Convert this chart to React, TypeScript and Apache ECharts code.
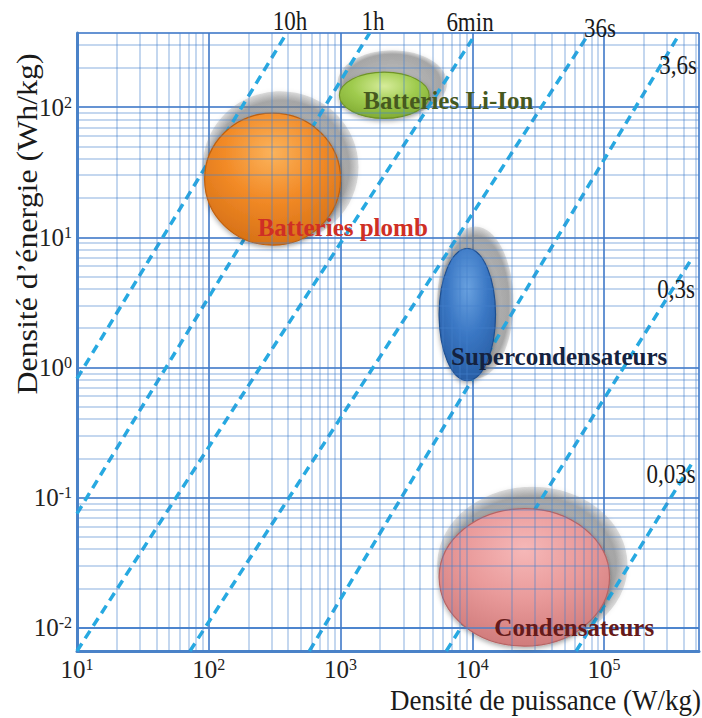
import React, { useEffect, useRef } from 'react';
import * as echarts from 'echarts';

const SERIF = '"Liberation Serif", "Times New Roman", serif';

// Axis extents: power density (W/kg) and energy density (Wh/kg)
const xMin = 10;
const xMax = 525000;
const yMin = 0.0066;
const yMax = 372;

// Technology regions (ellipses): ranges of power and energy density
const techNames = ['Batteries Li-Ion', 'Batteries plomb', 'Supercondensateurs', 'Condensateurs'];
const powerMin = [980, 93, 5600, 5600];
const powerMax = [4700, 1000, 15000, 110000];
const energyMin = [82, 8.7, 0.79, 0.0072];
const energyMax = [186, 90, 8.2, 0.082];
// Anchor (left end) of each technology label, in data units
const labelPower = [1490, 235, 6900, 14700];
const labelEnergy = [113, 11.9, 1.22, 0.01];

// Constant-time lines (E = P * t), end points in data units
const timeNames = ['10h', '1h', '6min', '36s', '3,6s', '0,3s', '0,03s'];
const lineP0 = [10, 10, 10, 72, 580, 6350, 61400];
const lineE0 = [0.82, 0.075, 0.0066, 0.0066, 0.0066, 0.0066, 0.0066];
const lineP1 = [390, 1660, 10000, 77000, 357000, 464000, 464000];
const lineE1 = [371, 371, 334, 371, 339, 6.9, 0.183];

// Log-grid decades
const xDecades = [10, 100, 1000, 10000, 100000];
const yDecades = [0.001, 0.01, 0.1, 1, 10, 100];
const minorMultipliers = [2, 3, 4, 5, 6, 7, 8, 9];

// styles
const techFill = [
  ['#d6ec9a', '#9fcb4e', '#79a32c'],
  ['#fbb35c', '#f28a26', '#cf6a12'],
  ['#6aa2e0', '#3a77c4', '#23579c'],
  ['#f6b8b8', '#e99a9a', '#c97373'],
];
const techStroke = ['#6f9428', '#c0600e', '#1f4f90', '#b86464'];
const techText = ['#46591f', '#cf2f25', '#14223f', '#661a1a'];

// time label pixel placement (layout)
const timeLabelPos: [number, number][] = [
  [290, 21], [373, 21], [470, 22], [600, 28], [678, 65], [676, 289], [671, 474],
];

function sup(v: number) {
  const l = Math.log10(v);
  const e = Math.round(l);
  if (Math.abs(l - e) > 0.01) return '';
  return `{b|10}{s|${e}}`;
}

export default function App() {
  const ref = useRef<HTMLDivElement>(null);
  useEffect(() => {
    if (!ref.current) return;
    const chart = echarts.init(ref.current, undefined, { renderer: 'svg' });

    const minorX: number[] = [];
    xDecades.forEach((d) => minorMultipliers.forEach((m) => { const v = d * m; if (v > xMin && v < xMax) minorX.push(v); }));
    const minorY: number[] = [];
    yDecades.forEach((d) => minorMultipliers.forEach((m) => { const v = d * m; if (v > yMin && v < yMax) minorY.push(v); }));

    const gridBlue = 'rgba(62,120,200,0.8)';
    const minorBlue = 'rgba(70,128,205,0.42)';

    const richLabel = {
      b: { fontSize: 25, fontFamily: SERIF, color: '#222' },
      s: { fontSize: 16, fontFamily: SERIF, color: '#222', verticalAlign: 'top' as const, padding: [0, 0, 10, 0] },
    };

    const ellipseData = techNames.map((n, i) => ({
      name: n,
      value: [powerMin[i], powerMax[i], energyMin[i], energyMax[i], i],
    }));

    const geom = (api: any) => {
      const a = api.coord([api.value(0), api.value(3)]);
      const b = api.coord([api.value(1), api.value(2)]);
      return {
        cx: (a[0] + b[0]) / 2,
        cy: (a[1] + b[1]) / 2,
        rx: Math.abs(b[0] - a[0]) / 2,
        ry: Math.abs(b[1] - a[1]) / 2,
      };
    };

    const timeSeries = timeNames.map((n, i) => ({
      type: 'line',
      name: n,
      data: [[lineP0[i], lineE0[i]], [lineP1[i], lineE1[i]]],
      symbol: 'none',
      clip: true,
      silent: true,
      z: 3,
      lineStyle: { color: '#27a9e1', width: 3.5, type: [9, 6] },
    }));

    const option: any = {
      animation: false,
      backgroundColor: '#ffffff',
      grid: { left: 77, top: 33, right: 2, bottom: 67, containLabel: false },
      xAxis: {
        type: 'log',
        logBase: 10,
        min: xMin,
        max: xMax,
        axisLine: { show: true, lineStyle: { color: '#4a82c8', width: 3 } },
        axisTick: { show: false },
        splitLine: { show: true, lineStyle: { color: gridBlue, width: 2 } },
        axisLabel: { formatter: sup, rich: richLabel, margin: 5, showMinLabel: true, showMaxLabel: true, hideOverlap: false },
      },
      yAxis: {
        type: 'log',
        logBase: 10,
        min: yMin,
        max: yMax,
        axisLine: { show: true, lineStyle: { color: '#4a82c8', width: 3 } },
        axisTick: { show: false },
        splitLine: { show: true, lineStyle: { color: gridBlue, width: 2 } },
        axisLabel: { formatter: sup, rich: richLabel, margin: 5, hideOverlap: false },
      },
      series: [
        {
          type: 'line',
          name: 'grid',
          data: [],
          silent: true,
          z: 1,
          markLine: {
            silent: true,
            symbol: ['none', 'none'],
            label: { show: false },
            lineStyle: { color: minorBlue, width: 1.5, type: 'solid' },
            data: [
              ...minorX.map((v) => ({ xAxis: v })),
              ...minorY.map((v) => ({ yAxis: v })),
            ],
          },
        },
        {
          type: 'custom',
          name: 'shadows',
          z: 2,
          silent: true,
          clip: false,
          encode: { x: [0, 1], y: [2, 3] },
          data: ellipseData,
          renderItem: (params: any, api: any) => {
            const g = geom(api);
            return {
              type: 'ellipse',
              shape: { cx: g.cx + 8, cy: g.cy - 12, rx: g.rx + 10, ry: g.ry + 10 },
              style: {
                fill: {
                  type: 'radial', x: 0.5, y: 0.5, r: 0.5,
                  colorStops: [
                    { offset: 0, color: 'rgba(150,150,150,0.5)' },
                    { offset: 0.88, color: 'rgba(125,125,125,0.62)' },
                    { offset: 1, color: 'rgba(150,150,150,0.3)' },
                  ],
                },
                shadowBlur: 4,
                shadowColor: 'rgba(0,0,0,0.2)',
              },
            };
          },
        },
        ...timeSeries,
        {
          type: 'custom',
          name: 'regions',
          z: 4,
          silent: true,
          clip: false,
          encode: { x: [0, 1], y: [2, 3] },
          data: ellipseData,
          renderItem: (params: any, api: any) => {
            const g = geom(api);
            const i = api.value(4);
            const c = techFill[i];
            return {
              type: 'ellipse',
              shape: { cx: g.cx, cy: g.cy, rx: g.rx, ry: g.ry },
              style: {
                fill: {
                  type: 'radial', x: 0.5, y: 0.3, r: 0.8,
                  colorStops: [
                    { offset: 0, color: c[0] },
                    { offset: 0.45, color: c[1] },
                    { offset: 1, color: c[2] },
                  ],
                },
                stroke: techStroke[i],
                lineWidth: 1.2,
                shadowBlur: 5,
                shadowColor: 'rgba(0,0,0,0.35)',
                shadowOffsetY: 2,
              },
            };
          },
        },
        {
          type: 'custom',
          name: 'labels',
          z: 6,
          silent: true,
          clip: false,
          encode: { x: 0, y: 1 },
          data: techNames.map((n, i) => ({ name: n, value: [labelPower[i], labelEnergy[i], i] })),
          renderItem: (params: any, api: any) => {
            const p = api.coord([api.value(0), api.value(1)]);
            const i = api.value(2);
            return {
              type: 'text',
              x: p[0],
              y: p[1],
              style: {
                text: techNames[i],
                fill: techText[i],
                font: `bold 25px ${SERIF}`,
                textAlign: 'left',
                textVerticalAlign: 'middle',
              },
            };
          },
        },
      ],
      graphic: [
        ...timeNames.map((n, i) => ({
          type: 'text',
          x: timeLabelPos[i][0],
          y: timeLabelPos[i][1],
          scaleY: 1.15,
          z: 10,
          style: {
            text: n,
            font: `23px ${SERIF}`,
            fill: '#1a1a1a',
            textAlign: 'center',
            textVerticalAlign: 'middle',
          },
        })),
        {
          type: 'text',
          x: 701,
          y: 699,
          scaleY: 1.12,
          style: {
            text: 'Densité de puissance (W/kg)',
            font: `normal 27px ${SERIF}`,
            fill: '#1a1a1a',
            textAlign: 'right',
            textVerticalAlign: 'middle',
          },
        },
        {
          type: 'text',
          x: 27,
          y: 224,
          rotation: Math.PI / 2,
          scaleX: 1.1,
          style: {
            text: 'Densité d’énergie (Wh/kg)',
            font: `normal 29px ${SERIF}`,
            fill: '#1a1a1a',
            textAlign: 'center',
            textVerticalAlign: 'middle',
          },
        },
      ],
    };
    chart.setOption(option);
    return () => chart.dispose();
  }, []);
  return (
    <div
      ref={ref}
      style={{ position: 'fixed', left: 0, top: 0, width: 702, height: 718, background: '#fff' }}
    />
  );
}
